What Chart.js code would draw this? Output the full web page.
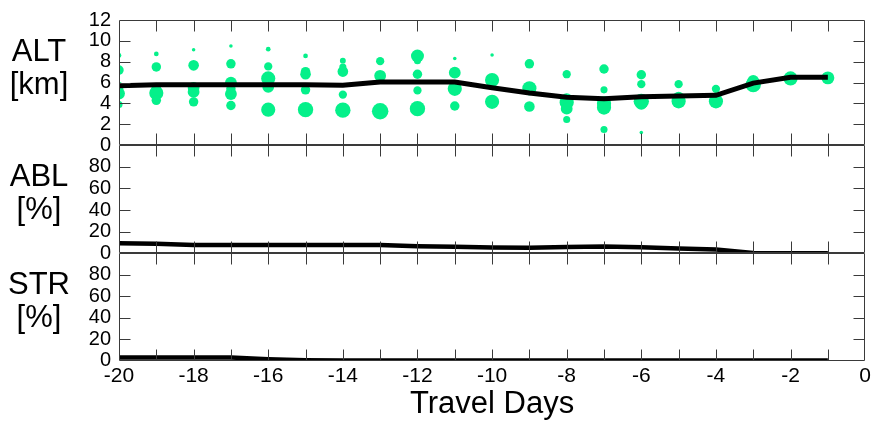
<!DOCTYPE html>
<html><head><meta charset="utf-8">
<script src="https://cdn.jsdelivr.net/npm/chart.js@4/dist/chart.umd.min.js"></script>
<style>html,body{margin:0;padding:0;background:#fff;}canvas{display:block}</style>
</head><body>
<canvas id="c" width="874" height="423"></canvas>
<script>
// ---- data ----
const days = [-20,-19,-18,-17,-16,-15,-14,-13,-12,-11,-10,-9,-8,-7,-6,-5,-4,-3,-2,-1];
const altMean = [5.7,5.8,5.8,5.8,5.8,5.8,5.75,6.05,6.05,6.05,5.5,5.0,4.6,4.45,4.65,4.7,4.78,5.95,6.5,6.5];
const ablPct = [9.3,8.8,7.6,7.6,7.6,7.6,7.6,7.6,6.6,6.0,5.3,5.1,5.8,6.4,5.6,4.5,3.6,0.4,0,0];
const strPct = [2.8,2.8,2.8,2.8,1.2,0.3,0,0,0,0,0,0,0,0,0,0,0,0,0,0];
// altitude-distribution bubbles: day, altitude (km), relative weight
const bubbleDay = [-20,-20,-20,-20,-20, -19,-19,-19,-19,-19, -18,-18,-18,-18,-18, -17,-17,-17,-17,-17,-17,
  -16,-16,-16,-16,-16, -15,-15,-15,-15,-15, -14,-14,-14,-14,-14, -13,-13,-13, -12,-12,-12,-12,-12,
  -11,-11,-11,-11, -10,-10,-10, -9,-9,-9, -8,-8,-8,-8,-8, -7,-7,-7,-7,-7, -6,-6,-6,-6,-6,
  -5,-5,-5, -4,-4,-4, -3,-3, -2, -1];
const bubbleAlt = [8.6,7.2,5.6,4.95,3.9, 8.75,7.5,5.5,5.0,4.3, 9.15,7.65,5.5,5.1,4.15, 9.5,7.8,6.0,5.4,4.9,3.8,
  9.2,7.55,6.4,5.6,3.4, 8.55,7.05,6.8,5.3,3.4, 8.1,7.5,7.05,4.85,3.35, 8.05,6.65,3.25, 8.55,8.1,6.8,5.25,3.5,
  8.3,6.95,5.4,3.75, 8.65,6.25,4.15, 7.8,5.45,3.7, 6.8,4.4,4.1,3.5,2.45, 7.3,5.3,4.0,3.6,1.5, 6.75,5.85,4.2,3.95,1.2,
  5.85,4.55,4.2, 5.4,4.55,4.2, 6.15,5.8, 6.4, 6.45];
const bubbleWeight = [2,4,4,5,3, 2,4,4,6,4, 1.5,4.5,5,5,4, 1.5,4,5,4,5,4,
  2,3.5,6,5,6, 2,4,4.5,4,6.5, 2.5,3,4.5,3.5,6.5, 3.5,5,7, 5.5,3,4,3.5,6.5,
  1.5,5,6,4, 1.5,6,6, 4,6,4.5, 3.5,5,6,5,3, 4,3,6,6,3, 4,3.5,6.5,5,1.5,
  3.5,5,6, 3.5,4,6, 5,6.5, 6, 5.5];
const xTickLabelsStep = 2;
const panelLabels = [["ALT","[km]"],["ABL","[%]"],["STR","[%]"]];
const xTitle = "Travel Days";

// ---- styles ----
const FONT = "'Liberation Sans', Arial, Helvetica, sans-serif";
Chart.defaults.font.family = FONT;
Chart.defaults.color = '#000';
const frameColor = '#3a3a3a';
const green = '#05f08a';
const radiusPerWeight = 1.18;

const pts = (arr) => days.map((d, i) => ({x: d, y: arr[i]}));
const bubbles = bubbleDay.map((d, i) => ({x: d, y: bubbleAlt[i], r: bubbleWeight[i] * radiusPerWeight}));

const framePlugin = {
  id: 'frame',
  afterDatasetsDraw(chart) {
    const ctx = chart.ctx;
    const xs = chart.scales.x;
    const ids = ['yAlt', 'yAbl', 'yStr'];
    const TL = 11;
    const L = Math.round(xs.left) + 0.5, R = Math.round(xs.right) - 0.5;
    ctx.save();
    ctx.strokeStyle = frameColor;
    ctx.lineWidth = 1;
    ctx.beginPath();
    ids.forEach((id) => {
      const s = chart.scales[id];
      const T = Math.round(s.top) + 0.5, B = Math.round(s.bottom) - 0.5;
      ctx.moveTo(L, T); ctx.lineTo(R, T); ctx.lineTo(R, B); ctx.lineTo(L, B); ctx.closePath();
      for (let v = Math.ceil(xs.min) + 1; v < xs.max; v++) {
        const px = Math.round(xs.getPixelForValue(v)) + 0.5;
        ctx.moveTo(px, T); ctx.lineTo(px, T + TL);
        ctx.moveTo(px, B); ctx.lineTo(px, B - TL);
      }
      s.ticks.forEach((t) => {
        if (t.value <= s.min || t.value >= s.max) return;
        const py = Math.round(s.getPixelForValue(t.value)) + 0.5;
        ctx.moveTo(L, py); ctx.lineTo(L + TL, py);
        ctx.moveTo(R, py); ctx.lineTo(R - TL, py);
      });
    });
    ctx.stroke();
    ctx.fillStyle = '#000';
    ctx.font = '31px ' + FONT;
    ctx.textAlign = 'center';
    ctx.textBaseline = 'alphabetic';
    ids.forEach((id, k) => {
      const s = chart.scales[id];
      ctx.fillText(panelLabels[k][0], 39, s.top + 41);
      ctx.fillText(panelLabels[k][1], 39, s.top + 74);
    });
    ctx.restore();
  }
};

const yCommon = (min, max, step, weight) => ({
  type: 'linear', position: 'left', stack: 'panels', stackWeight: weight,
  min: min, max: max,
  grid: {display: false, drawTicks: false},
  border: {display: false},
  ticks: {stepSize: step, autoSkip: false, padding: 8, font: {size: 20}, color: '#000',
    callback: (v) => (max === 100 && v === 100 ? '' : v)},
  afterFit: (s) => { s.width = 50; }
});

new Chart(document.getElementById('c'), {
  data: {
    datasets: [
      {type: 'line', data: pts(altMean), yAxisID: 'yAlt', borderColor: '#000', borderWidth: 5,
        pointRadius: 0, tension: 0, order: 0, clip: 0},
      {type: 'bubble', data: bubbles, yAxisID: 'yAlt', backgroundColor: green, borderWidth: 0,
        order: 1, clip: 0},
      {type: 'line', data: pts(ablPct), yAxisID: 'yAbl', borderColor: '#000', borderWidth: 4.5,
        pointRadius: 0, tension: 0, order: 0, clip: 0},
      {type: 'line', data: pts(strPct), yAxisID: 'yStr', borderColor: '#000', borderWidth: 4.5,
        pointRadius: 0, tension: 0, order: 0, clip: 0}
    ]
  },
  options: {
    responsive: false,
    animation: false,
    events: [],
    layout: {padding: {left: 69, right: 7, top: 19.5, bottom: 0}},
    plugins: {legend: {display: false}, tooltip: {enabled: false}},
    scales: {
      x: {
        type: 'linear', position: 'bottom', min: -20, max: 0,
        grid: {display: false, drawTicks: false},
        border: {display: false},
        ticks: {stepSize: xTickLabelsStep, autoSkip: false, maxRotation: 0, padding: 3,
          font: {size: 21}, color: '#000'},
        title: {display: true, text: xTitle, font: {size: 31}, color: '#000', padding: {top: 0, bottom: 0}},
        afterFit: (s) => { s.height = 62.5; }
      },
      yStr: yCommon(0, 100, 20, 107.5),
      yAbl: yCommon(0, 100, 20, 108.5),
      yAlt: yCommon(0, 12, 2, 125.5)
    }
  },
  plugins: [framePlugin]
});
</script>
</body></html>
